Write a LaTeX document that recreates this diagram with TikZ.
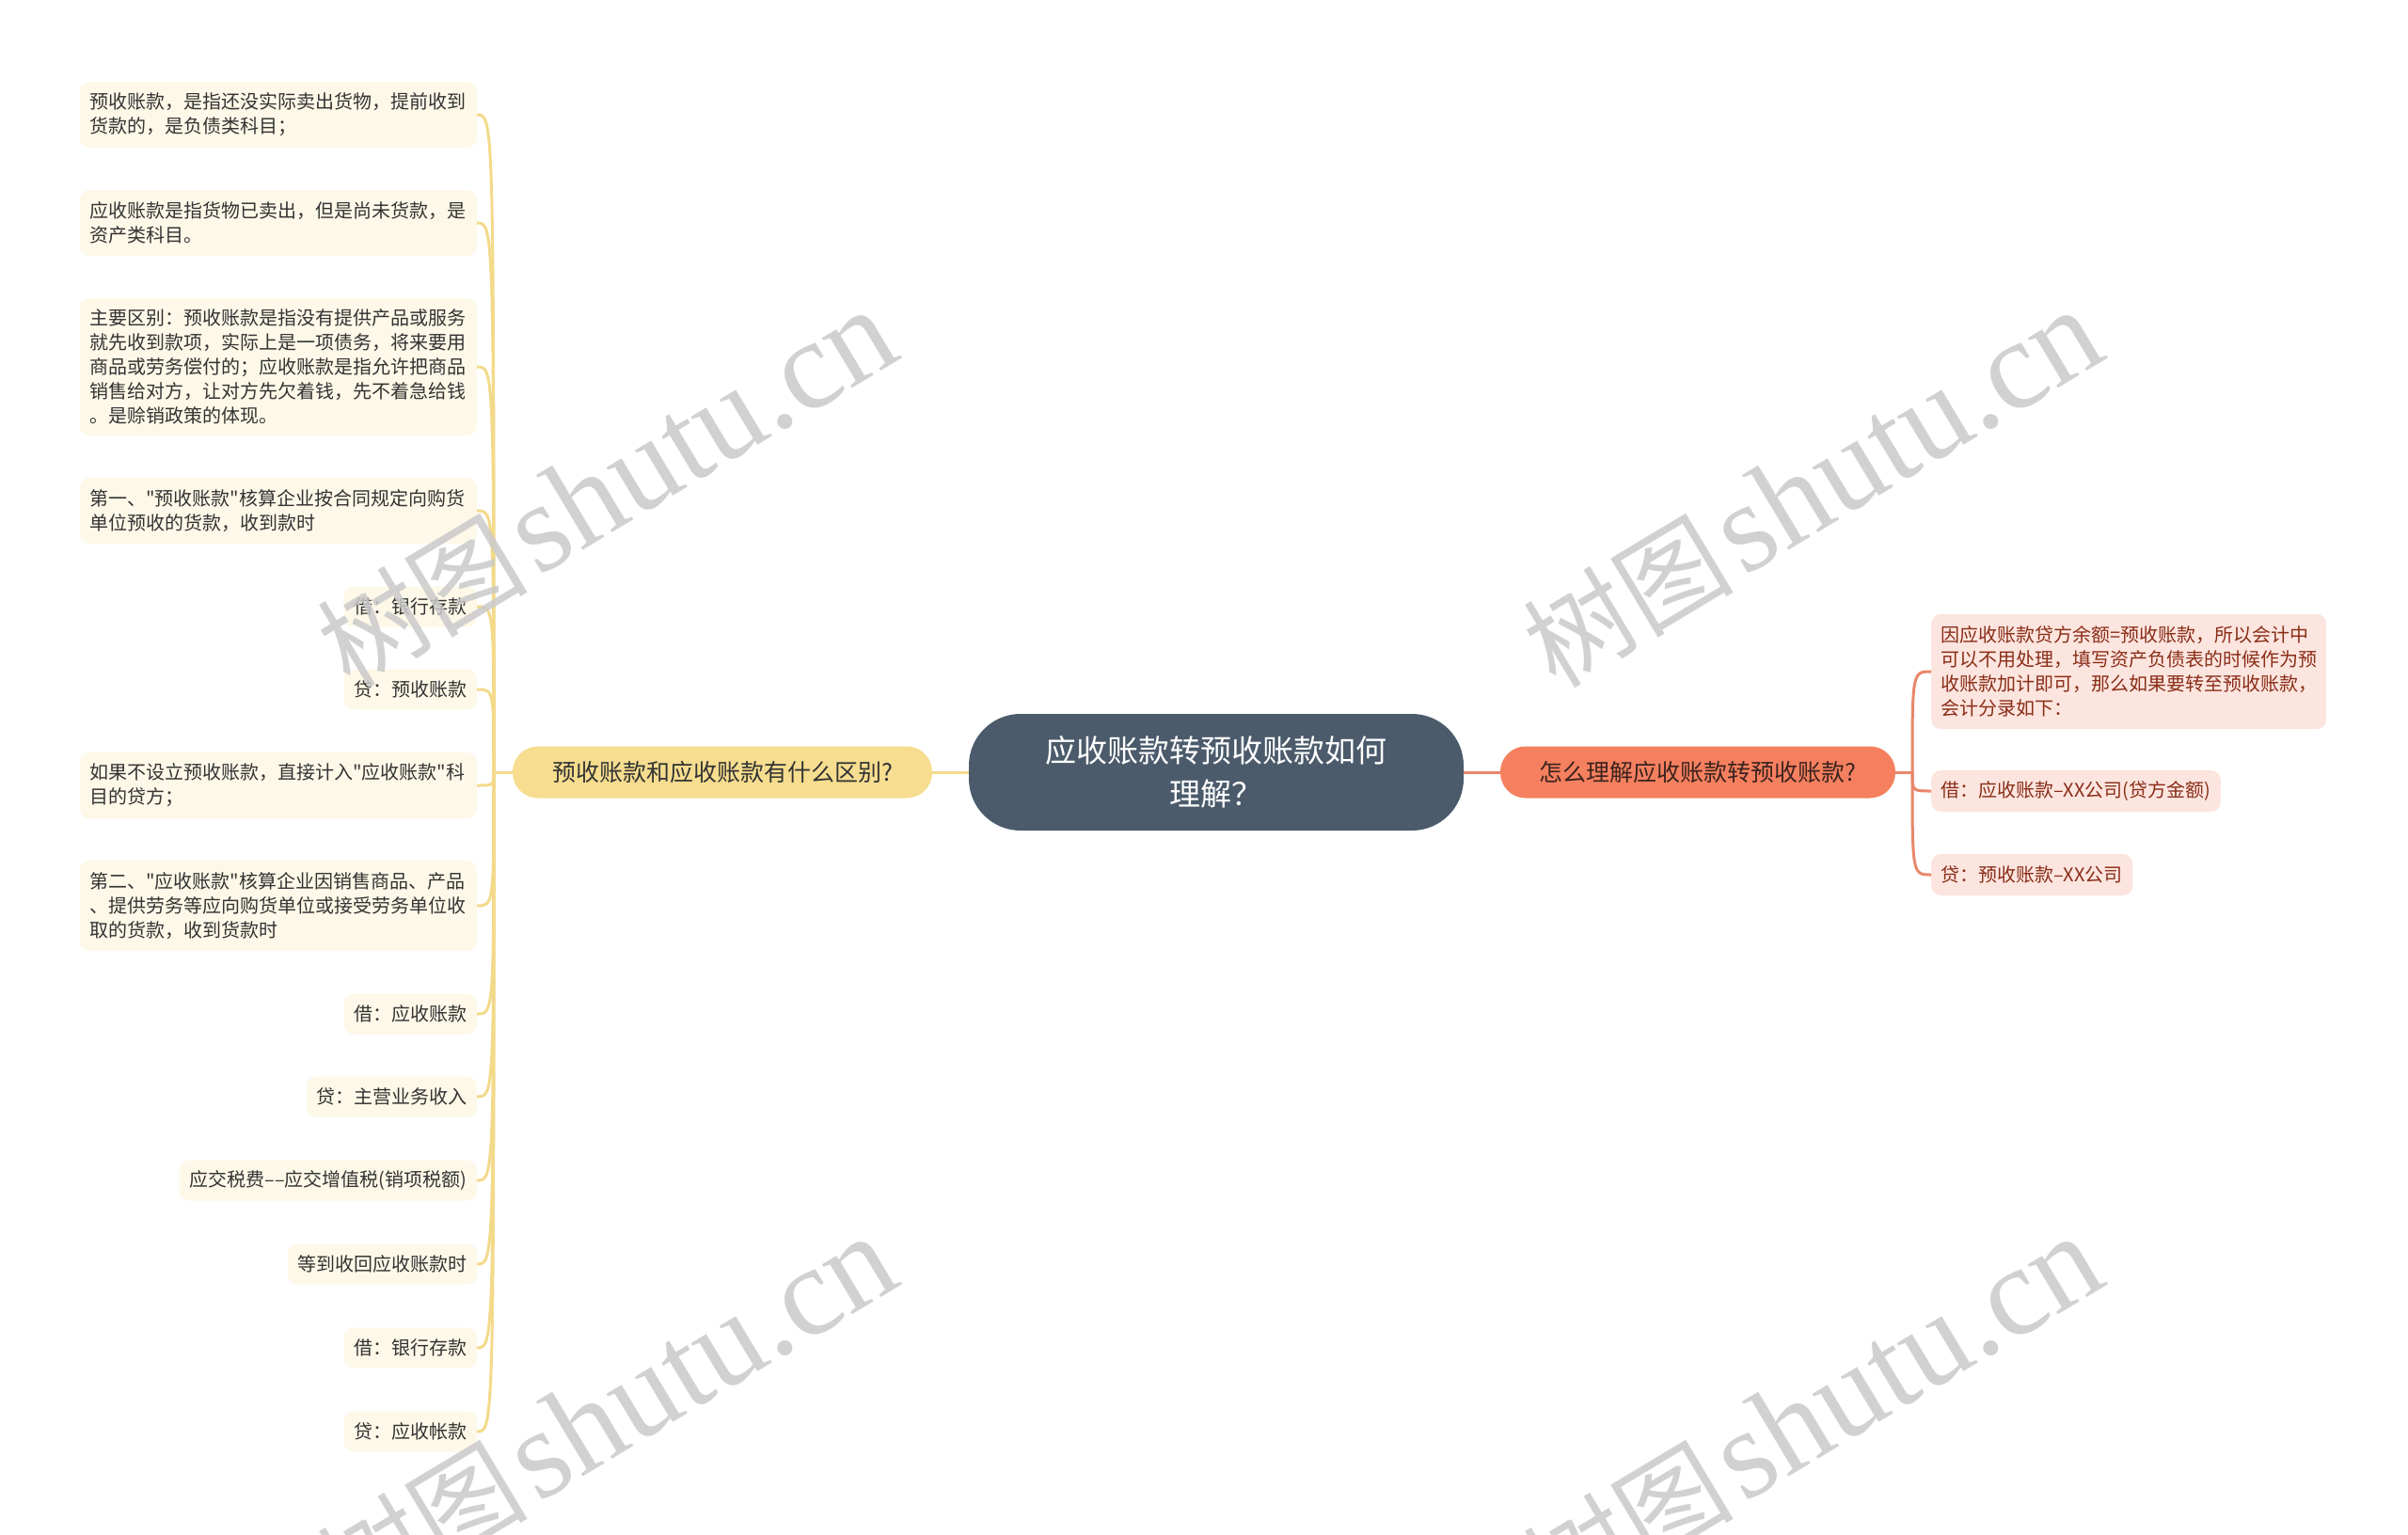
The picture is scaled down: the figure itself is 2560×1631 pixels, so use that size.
\documentclass[tikz,border=0pt]{standalone}
\usepackage{fontspec}
\setmainfont{Noto Sans CJK SC}[Ligatures=TeXOff]
\newfontfamily\wmserif{Liberation Serif}
\newfontfamily\wmcjk{Noto Sans CJK SC}
\definecolor{cfill}{HTML}{4B5B6B}
\definecolor{lbfill}{HTML}{F6DD8F}
\definecolor{lline}{HTML}{F3DA8A}
\definecolor{lfill}{HTML}{FDF8E8}
\definecolor{ltext}{HTML}{333333}
\definecolor{rbfill}{HTML}{F5805F}
\definecolor{rline}{HTML}{E9876B}
\definecolor{rfill}{HTML}{FCE5DF}
\definecolor{rtext}{HTML}{8A2D17}
\definecolor{rbtext}{HTML}{3C231E}
\definecolor{wmgray}{HTML}{CACACA}
\begin{document}
\begin{tikzpicture}[x=1pt,y=-1pt,
  centerbox/.style={fill=cfill, text=white, rounded corners=55pt, minimum width=526pt, minimum height=124pt, align=center, font=\fontsize{33}{46}\selectfont, inner sep=0pt},
  branchL/.style={fill=lbfill, text=ltext, rounded corners=27pt, minimum width=446pt, minimum height=55pt, font=\fontsize{25}{30}\selectfont, inner sep=0pt},
  branchR/.style={fill=rbfill, text=rbtext, rounded corners=27pt, minimum width=420pt, minimum height=55pt, font=\fontsize{25}{30}\selectfont, inner sep=0pt},
  leafL/.style={fill=lfill, text=ltext, rounded corners=10pt, inner xsep=10.5pt, inner ysep=0pt, minimum height=43pt, font=\fontsize{20}{26}\selectfont, anchor=east},
  leafR/.style={fill=rfill, text=rtext, rounded corners=10pt, inner xsep=10.5pt, inner ysep=0pt, minimum height=44pt, font=\fontsize{20}{26}\selectfont, anchor=west},
  wide/.style={text width=401pt, align=left},
  lconn/.style={draw=lline, line width=3pt},
  rconn/.style={draw=rline, line width=3pt},
  wm/.style={text=wmgray, opacity=0.85, rotate=31, inner sep=0pt}
]
\path[fill=white, use as bounding box] (0,0) rectangle (2560,1631);

% central and branch nodes
\node[centerbox] (c) at (1293,821) {应收账款转预收账款如何\\理解？};
\node[branchL] (lb) at (768,821) {预收账款和应收账款有什么区别?};
\node[branchR] (rb) at (1805,821) {怎么理解应收账款转预收账款?};

% left leaves
\node[leafL, wide, minimum height=70pt] (l1) at (507,122) {预收账款，是指还没实际卖出货物，提前收到\\货款的，是负债类科目；};
\node[leafL, wide, minimum height=70pt] (l2) at (507,237) {应收账款是指货物已卖出，但是尚未货款，是\\资产类科目。};
\node[leafL, wide, minimum height=146pt] (l3) at (507,390) {主要区别：预收账款是指没有提供产品或服务\\就先收到款项，实际上是一项债务，将来要用\\商品或劳务偿付的；应收账款是指允许把商品\\销售给对方，让对方先欠着钱，先不着急给钱\\。是赊销政策的体现。};
\node[leafL, wide, minimum height=70pt] (l4) at (507,543) {第一、"预收账款"核算企业按合同规定向购货\\单位预收的货款，收到款时};
\node[leafL] (l5) at (507,645) {借：银行存款};
\node[leafL] (l6) at (507,733) {贷：预收账款};
\node[leafL, wide, minimum height=70pt] (l7) at (507,835) {如果不设立预收账款，直接计入"应收账款"科\\目的贷方；};
\node[leafL, wide, minimum height=96pt] (l8) at (507,963) {第二、"应收账款"核算企业因销售商品、产品\\、提供劳务等应向购货单位或接受劳务单位收\\取的货款，收到货款时};
\node[leafL] (l9) at (507,1078) {借：应收账款};
\node[leafL] (l10) at (507,1166) {贷：主营业务收入};
\node[leafL] (l11) at (507,1255) {应交税费––应交增值税(销项税额)};
\node[leafL] (l12) at (507,1344) {等到收回应收账款时};
\node[leafL] (l13) at (507,1433) {借：银行存款};
\node[leafL] (l14) at (507,1522) {贷：应收帐款};

% right leaves
\node[leafR, text width=399pt, align=left, minimum height=122pt] (r1) at (2053,714) {因应收账款贷方余额=预收账款，所以会计中\\可以不用处理，填写资产负债表的时候作为预\\收账款加计即可，那么如果要转至预收账款，\\会计分录如下：};
\node[leafR] (r2) at (2053,841) {借：应收账款–XX公司(贷方金额)};
\node[leafR] (r3) at (2053,930) {贷：预收账款–XX公司};

% connectors center-branch
\draw[lconn] (c.west) -- (lb.east);
\draw[rconn] (c.east) -- (rb.west);

% left tree
\coordinate (lt) at (525,821);
\draw[lconn] (lb.west) -- (lt);
\foreach \n in {l1,l2,l3,l4,l5,l6,l7,l8,l9,l10,l11,l12,l13,l14}{
  \draw[lconn] (lt) .. controls (lt |- \n.east) and (lt |- \n.east) .. (\n.east);
}

% right tree
\coordinate (rt) at (2033,821);
\draw[rconn] (rb.east) -- (rt);
\foreach \n in {r1,r2,r3}{
  \draw[rconn] (rt) .. controls (rt |- \n.west) and (rt |- \n.west) .. (\n.west);
}

% watermarks
\node[wm] (w1) at (645,520) {{\wmcjk\fontsize{112}{112}\selectfont 树图}\hspace{10pt}{\wmserif\fontsize{135}{135}\selectfont shutu.cn}};
\node[wm] (w2) at (1927,520) {{\wmcjk\fontsize{112}{112}\selectfont 树图}\hspace{10pt}{\wmserif\fontsize{135}{135}\selectfont shutu.cn}};
\node[wm] (w3) at (645,1505) {{\wmcjk\fontsize{112}{112}\selectfont 树图}\hspace{10pt}{\wmserif\fontsize{135}{135}\selectfont shutu.cn}};
\node[wm] (w4) at (1927,1505) {{\wmcjk\fontsize{112}{112}\selectfont 树图}\hspace{10pt}{\wmserif\fontsize{135}{135}\selectfont shutu.cn}};
\end{tikzpicture}
\end{document}
